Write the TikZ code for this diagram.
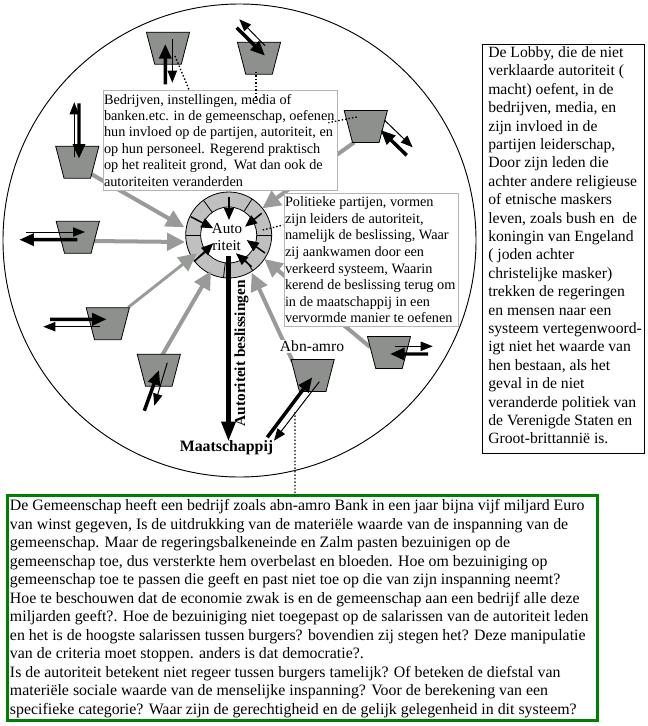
\documentclass[tikz,border=0pt]{standalone}
\usepackage{fontspec}
\setmainfont{Liberation Serif}
\usetikzlibrary{arrows.meta,shapes.geometric}
\definecolor{trapgray}{HTML}{8E908E}
\definecolor{ringgray}{HTML}{C0C0C0}
\definecolor{arrowgray}{HTML}{999B99}
\definecolor{boxgray}{HTML}{B4B4B4}
\definecolor{boxgreen}{HTML}{008000}
\newcommand{\firstline}{\rule{0pt}{10pt}}
\tikzset{
 x=0.75pt,y=-0.75pt,
 every node/.style={outer sep=0pt},
 trap/.style={trapezium,trapezium stretches=true,trapezium left angle=72.6,trapezium right angle=72.6,shape border rotate=180,minimum width=32.4pt,minimum height=24pt,inner sep=0pt,draw=black,line width=.6pt,fill=trapgray},
 grayarrow/.style={draw=arrowgray,line width=3pt,-{Triangle[length=13.5pt,width=13pt]}},
 grayslim/.style={grayarrow,line width=2.2pt},
 thickarrow/.style={line width=2.6pt,-{Triangle[length=11pt,width=9pt]}},
 thinarrow/.style={line width=.75pt,-{Triangle[length=9pt,width=7pt]}},
 ringarrow/.style={line width=1.1pt,-{Triangle[length=9pt,width=7.5pt]}},
 bigarrow/.style={line width=3.6pt,-{Triangle[length=15pt,width=10pt]}},
 dotline/.style={line width=1pt,dash pattern=on 1.1pt off 1.5pt},
 boxgrayst/.style={anchor=north west,draw=boxgray,line width=.75pt,fill=white,inner sep=0pt},
 txt/.style={anchor=north west,inner sep=0pt,align=left},
}
\begin{document}
\begin{tikzpicture}
\useasboundingbox (0,0) rectangle (648,726);
\fill[white] (0,0) rectangle (648,726);
\node[circle,draw=black,line width=.7pt,minimum size=354.75pt,inner sep=0pt] (world) at (239.5,240.5) {};
% ring
\node[circle,draw=black,line width=.6pt,fill=ringgray,minimum size=64.5pt,inner sep=0pt] (ring) at (228.7,235) {};
\node[circle,draw=black,line width=.6pt,fill=white,minimum size=42pt,inner sep=0pt] (hole) at (228.7,235) {};
\foreach \a in {0,57,126,180,217,263,304}{\draw[line width=.6pt] (hole.\a) -- (ring.\a);}
% trapezoid positions (drawn after the grey arrows)
\path (168,48.2) coordinate (c1) (259,58.2) coordinate (c2) (365.8,126.5) coordinate (c3) (77.3,162.2) coordinate (c4) (77.8,237.3) coordinate (c5) (107.8,323.7) coordinate (c6) (158.8,370.2) coordinate (c7) (312.7,375.4) coordinate (c8) (389,352.4) coordinate (c9);
% grey arrows
\draw[grayarrow] ([shift={(-11.5,15.8)}]c3) -- ([shift={(33.6,-26.7)}]ring.center);
\draw[grayarrow] ([shift={(12.7,11.1)}]c4) -- ([shift={(-44.4,-7.7)}]ring.center);
\draw[grayarrow] ([shift={(13.9,3.7)}]c5) -- ([shift={(-43.7,7)}]ring.center);
\draw[grayslim] ([shift={(20.5,-16.4)}]c6) -- ([shift={(-32,18.3)}]ring.center);
\draw[grayarrow] ([shift={(3.5,-15.2)}]c7) -- ([shift={(-17.7,36)}]ring.center);
\draw[grayarrow] ([shift={(-19.7,-13.4)}]c8) -- ([shift={(23,37.7)}]ring.center);
\draw[grayarrow] ([shift={(-19,-5.4)}]c9) -- ([shift={(35.6,24)}]ring.center);
\foreach \i in {1,...,9}{\node[trap] (t\i) at (c\i) {\phantom{\rule{1pt}{1pt}}};}
% text boxes
\node[boxgrayst,minimum width=175.5pt,minimum height=75pt] (box1) at (103.3,90.3) {};
\node[boxgrayst,minimum width=130.8pt,minimum height=100pt] (box2) at (284.3,193.3) {};
\node[txt,font=\fontsize{10.7}{12.3}\selectfont] (txt1) at (104,90.7) {\firstline Bedrijven, instellingen, media of\\banken.etc. in de gemeenschap, oefenen\\hun invloed op de partijen, autoriteit, en\\op hun personeel. Regerend praktisch\\op het realiteit grond,\ \ Wat dan ook de\\autoriteiten veranderden};
\node[txt,font=\fontsize{10.7}{12.45}\selectfont] (txt2) at (285,193.4) {\firstline Politieke partijen, vormen\\zijn leiders de autoriteit,\\namelijk de beslissing, Waar\\zij aankwamen door een\\verkeerd systeem, Waarin\\kerend de beslissing terug om\\in de maatschappij in een\\vervormde manier te oefenen};
% black arrow pairs
\coordinate (f1a) at (165.3,84.3); \coordinate (f1b) at (172.3,82.7);
\coordinate (f2a) at (236.7,27.7); \coordinate (f2b) at (239.3,19.3);
\coordinate (f3a) at (406.7,155.3); \coordinate (f3b) at (412.7,147.3);
\coordinate (f4a) at (79,103.3); \coordinate (f4b) at (74.3,102.3);
\coordinate (f5a) at (26,232); \coordinate (f5b) at (19.3,239.7);
\coordinate (f6a) at (50,319.3); \coordinate (f6b) at (43.3,326.7);
\coordinate (f7a) at (144.3,410.7); \coordinate (f7b) at (154.3,405.7);
\coordinate (f8a) at (267.3,437.3); \coordinate (f8b) at (274,440.7);
\coordinate (f9a) at (432.7,346.3); \coordinate (f9b) at (428,354);
\draw[thickarrow] (f1a) -- ([shift={(-2.7,-4.2)}]t1.center);
\draw[thinarrow] ([shift={(4.3,-9.2)}]t1.center) -- (f1b);
\draw[thickarrow] (f2a) -- ([shift={(6,-2.5)}]t2.center);
\draw[thinarrow] ([shift={(6,-12.5)}]t2.center) -- (f2b);
\draw[thickarrow] (f3a) -- ([shift={(14.9,3.5)}]t3.center);
\draw[thinarrow] ([shift={(18.5,-6.5)}]t3.center) -- (f3b);
\draw[thickarrow] (f4a) -- ([shift={(1.7,-3.5)}]t4.center);
\draw[thinarrow] ([shift={(-3,-4.9)}]t4.center) -- (f4b);
\draw[thinarrow] (f5a) -- ([shift={(7.2,-5.3)}]t5.center);
\draw[thickarrow] ([shift={(-.5,2.4)}]t5.center) -- (f5b);
\draw[thickarrow] (f6a) -- ([shift={(-1.1,-4.4)}]t6.center);
\draw[thinarrow] ([shift={(-7.8,3)}]t6.center) -- (f6b);
\draw[thickarrow] (f7a) -- ([shift={(.2,-.2)}]t7.center);
\draw[thinarrow] ([shift={(8.5,-7.5)}]t7.center) -- (f7b);
\draw[thickarrow] (f8a) -- ([shift={(-.4,1.9)}]t8.center);
\draw[thinarrow] ([shift={(6.6,6.3)}]t8.center) -- (f8b);
\draw[thinarrow] ([shift={(6,-6.1)}]t9.center) -- (f9a);
\draw[thickarrow] (f9b) -- ([shift={(1,1.6)}]t9.center);
% ring arrows
\draw[ringarrow] ([shift={(.3,-38)}]ring.center) -- ([shift={(.3,-15)}]ring.center);
\draw[ringarrow] ([shift={(-38,-18.3)}]ring.center) -- ([shift={(-15.4,-6.7)}]ring.center);
\draw[ringarrow] ([shift={(33,-21.7)}]ring.center) -- ([shift={(16.3,-8.3)}]ring.center);
\draw[ringarrow] ([shift={(36.3,18)}]ring.center) -- ([shift={(18,5)}]ring.center);
\draw[ringarrow] ([shift={(23,31.7)}]ring.center) -- ([shift={(7.3,18.3)}]ring.center);
\draw[ringarrow] ([shift={(-34.7,26.7)}]ring.center) -- ([shift={(-15.4,8.3)}]ring.center);
% centre labels
\node[inner sep=0pt,anchor=base,font=\fontsize{11.3}{12}\selectfont] (auto) at (227,233) {Auto};
\node[inner sep=0pt,anchor=base,font=\fontsize{11.3}{12}\selectfont] (riteit) at (226.7,250) {riteit};
\draw[bigarrow] ([shift={(-.2,21)}]ring.center) -- ([shift={(-.2,206.7)}]ring.center);
\node[inner sep=0pt,anchor=base,rotate=90,font=\bfseries\fontsize{11.5}{12}\selectfont] (besl) at (245,353.3) {Autoriteit beslissingen};
\node[inner sep=0pt,anchor=base,font=\bfseries\fontsize{11.9}{12}\selectfont] (maat) at (226.5,451.7) {Maatschappij};
\node[inner sep=1pt,fill=white,anchor=base,font=\fontsize{11.7}{12}\selectfont] (abn) at (312,351.7) {Abn-amro};
% lobby box
\node[anchor=north west,draw=black,line width=.75pt,fill=white,inner sep=0pt,minimum width=121.3pt,minimum height=306.8pt] (lobby) at (482.3,44.3) {};
\node[txt,font=\fontsize{11.75}{13.8}\selectfont] (lobbytxt) at (488.3,44.2) {\firstline De Lobby, die de niet\\verklaarde autoriteit (\\macht) oefent, in de\\bedrijven, media, en\\zijn invloed in de\\partijen leiderschap,\\Door zijn leden die\\achter andere religieuse\\of etnische maskers\\leven, zoals bush en\ \ de\\koningin van Engeland\\( joden achter\\christelijke masker)\\trekken de regeringen\\en mensen naar een\\systeem vertegenwoord-\\igt niet het waarde van\\hen bestaan, als het\\geval in de niet\\veranderde politiek van\\de Verenigde Staten en\\Groot-brittannië is.};
% green box
\node[anchor=north west,draw=boxgreen,line width=2.4pt,fill=white,inner sep=0pt,minimum width=442.5pt,minimum height=168.75pt] (green) at (7.5,495.5) {};
\node[txt,font=\fontsize{11.9}{13.87}\selectfont] (greentxt) at (10,497.4) {\firstline De Gemeenschap heeft een bedrijf zoals abn-amro Bank in een jaar bijna vijf miljard Euro\\van winst gegeven, Is de uitdrukking van de materiële waarde van de inspanning van de\\gemeenschap. Maar de regeringsbalkeneinde en Zalm pasten bezuinigen op de\\gemeenschap toe, dus versterkte hem overbelast en bloeden. Hoe om bezuiniging op\\gemeenschap toe te passen die geeft en past niet toe op die van zijn inspanning neemt?\\Hoe te beschouwen dat de economie zwak is en de gemeenschap aan een bedrijf alle deze\\miljarden geeft?. Hoe de bezuiniging niet toegepast op de salarissen van de autoriteit leden\\en het is de hoogste salarissen tussen burgers? bovendien zij stegen het? Deze manipulatie\\van de criteria moet stoppen. anders is dat democratie?.\\Is de autoriteit betekent niet regeer tussen burgers tamelijk? Of beteken de diefstal van\\materiële sociale waarde van de menselijke inspanning? Voor de berekening van een\\specifieke categorie? Waar zijn de gerechtigheid en de gelijk gelegenheid in dit systeem?};
% dotted leaders
\draw[dotline] ([shift={(7,7.8)}]t1.center) -- ([xshift=64.5pt]box1.north west);
\draw[dotline] ([shift={(-3,13.8)}]t2.center) -- ([shift={(-3,41.8)}]t2.center);
\draw[dotline] ([shift={(-9.1,-9.5)}]t3.center) -- ([shift={(-37.5,-3.8)}]t3.center);
\draw[dotline] ([shift={(34,-5)}]ring.center) -- ([shift={(-1,31.7)}]box2.north west);
\draw[dotline] ([shift={(-17.7,36.6)}]t8.center) -- ([xshift=215.6pt]green.north west);
\end{tikzpicture}
\end{document}
